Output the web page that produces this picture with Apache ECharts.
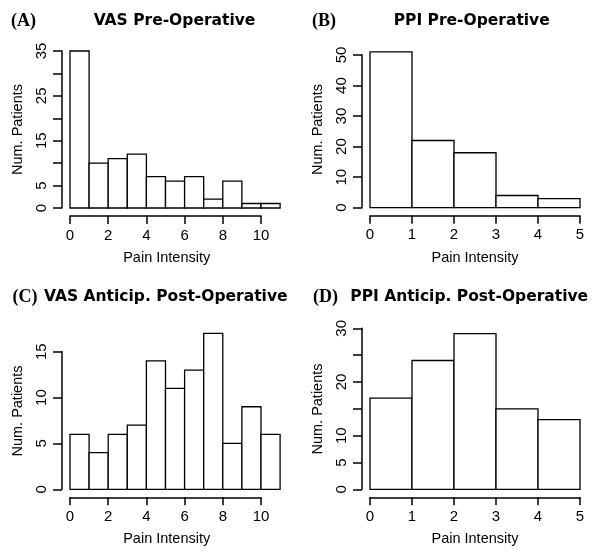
<!DOCTYPE html>
<html><head><meta charset="utf-8">
<script src="https://cdn.jsdelivr.net/npm/echarts@6/dist/echarts.min.js"></script>
<style>html,body{margin:0;padding:0;background:#fff}#c{width:600px;height:558px}</style>
</head><body><div id="c"></div>
<script>
// ---- data (histogram counts per unit-wide bin starting at 0) ----
const vasPre  = [35,10,11,12,7,6,7,2,6,1,1];
const ppiPre  = [51,22,18,4,3];
const vasPost = [6,4,6,7,14,11,13,17,5,9,6];
const ppiPost = [17,24,29,15,13];
// tick labels
const xLabelsVAS = [0,2,4,6,8,10];
const xLabelsPPI = [0,1,2,3,4,5];
const yLabelsA = [0,5,15,25,35];
const yLabelsB = [0,10,20,30,40,50];
const yLabelsC = [0,5,10,15];
const yLabelsD = [0,5,10,20,30];
const titles = ['VAS Pre-Operative','PPI Pre-Operative','VAS Anticip. Post-Operative','PPI Anticip. Post-Operative'];
const tags = ['(A)','(B)','(C)','(D)'];
const xTitle = 'Pain Intensity';
const yTitle = 'Num. Patients';

// ---- layout ----
const panels = [
  {data: vasPre,  xl: xLabelsVAS, xStep: 2, yl: yLabelsA, yStep: 5,  x0: 70,  xs: 19.1, y0: 208,   ys: 4.486,
   tag:[23.5,21], title:[174.5,21], xt:[166.7,258], yt:[18,129.5]},
  {data: ppiPre,  xl: xLabelsPPI, xStep: 1, yl: yLabelsB, yStep: 10, x0: 370, xs: 42,   y0: 207.7, ys: 3.054,
   tag:[324,21], title:[471.7,21], xt:[475,258], yt:[318,129.5]},
  {data: vasPost, xl: xLabelsVAS, xStep: 2, yl: yLabelsC, yStep: 5,  x0: 70,  xs: 19.1, y0: 489.3, ys: 9.17,
   tag:[25,297], title:[165.8,297], xt:[166.7,539.3], yt:[18,411]},
  {data: ppiPost, xl: xLabelsPPI, xStep: 1, yl: yLabelsD, yStep: 5,  x0: 370, xs: 42,   y0: 489.3, ys: 5.367,
   tag:[325.5,297], title:[469.2,297], xt:[475,539.3], yt:[318,409]}
];

const FONT = 'Liberation Sans';
const grid = [], xAxis = [], yAxis = [], series = [], graphic = [];

panels.forEach((p, i) => {
  const n = p.data.length;
  const barMax = Math.max(...p.data);
  const xTickMax = p.xl[p.xl.length-1];
  const yTickMax = p.yl[p.yl.length-1];
  // bar grid
  grid.push({left: p.x0, top: p.y0 - barMax*p.ys, width: n*p.xs, height: barMax*p.ys});
  xAxis.push({gridIndex: 2*i, type:'value', min:0, max:n, show:false});
  yAxis.push({gridIndex: 2*i, type:'value', min:0, max:barMax, show:false});
  // axis grid
  grid.push({left: p.x0, top: p.y0 - yTickMax*p.ys, width: xTickMax*p.xs, height: yTickMax*p.ys});
  const xs = new Set(p.xl), ysSet = new Set(p.yl);
  xAxis.push({gridIndex: 2*i+1, type:'value', min:0, max:xTickMax, interval:p.xStep, offset:8,
    axisLine:{show:true, onZero:false, lineStyle:{color:'#000', width:1.5}},
    axisTick:{show:true, length:8, lineStyle:{color:'#000', width:1.5}},
    splitLine:{show:false},
    axisLabel:{color:'#000', fontFamily:FONT, fontSize:15, margin:12, showMinLabel:true, showMaxLabel:true,
      formatter: v => xs.has(v) ? String(v) : ''}
  });
  yAxis.push({gridIndex: 2*i+1, type:'value', min:0, max:yTickMax, interval:p.yStep, offset:8,
    axisLine:{show:true, onZero:false, lineStyle:{color:'#000', width:1.5}},
    axisTick:{show:true, length:9, lineStyle:{color:'#000', width:1.5}},
    splitLine:{show:false},
    axisLabel:{color:'#000', fontFamily:FONT, fontSize:15, margin:13, rotate:90, showMinLabel:true, showMaxLabel:true,
      formatter: v => ysSet.has(v) ? String(v) : ''}
  });
  series.push({
    type:'custom', xAxisIndex: 2*i, yAxisIndex: 2*i, silent:true,
    data: p.data.map((v, k) => [k, k+1, v]),
    renderItem: (params, api) => {
      const a = api.coord([api.value(0), 0]);
      const b = api.coord([api.value(1), api.value(2)]);
      return {type:'rect', shape:{x:a[0], y:b[1], width:b[0]-a[0], height:a[1]-b[1]},
        style:{fill:'#fff', stroke:'#000', lineWidth:1.3}};
    }
  });
  graphic.push({type:'text', x:p.tag[0], y:p.tag[1], style:{text:tags[i], font:'bold 18px "Liberation Serif"', fill:'#000', align:'center', verticalAlign:'middle'}});
  graphic.push({type:'text', x:p.title[0], y:p.title[1], style:{text:titles[i], font:'bold 15.5px "DejaVu Sans"', fill:'#000', align:'center', verticalAlign:'middle'}});
  graphic.push({type:'text', x:p.xt[0], y:p.xt[1], style:{text:xTitle, font:'14.5px "Liberation Sans"', fill:'#000', align:'center', verticalAlign:'middle'}});
  graphic.push({type:'text', x:p.yt[0], y:p.yt[1], rotation:Math.PI/2, style:{text:yTitle, font:'14.5px "Liberation Sans"', fill:'#000', align:'center', verticalAlign:'middle'}});
});

const chart = echarts.init(document.getElementById('c'), null, {renderer:'canvas'});
chart.setOption({animation:false, backgroundColor:'#fff', grid, xAxis, yAxis, series, graphic});
</script></body></html>
